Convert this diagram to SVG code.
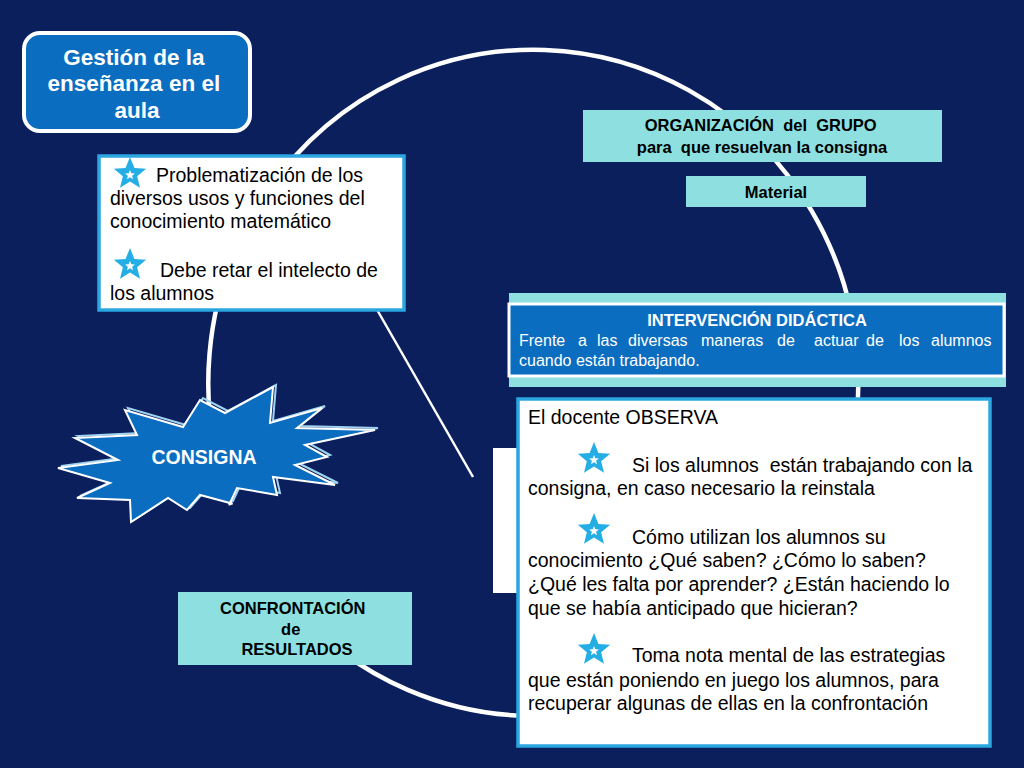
<svg xmlns="http://www.w3.org/2000/svg" width="1024" height="768" viewBox="0 0 1024 768">
<style>
  .t{font-family:"Liberation Sans",Arial,sans-serif;}
  .b{font-weight:bold;}
  .cyan{fill:#8de0df;}
  .wbox{fill:#ffffff;stroke:#2aa7e0;stroke-width:3.5;}
  .bbox{fill:#0b6dc0;stroke:#ffffff;stroke-width:3;}
  .conn{fill:none;stroke:#ffffff;stroke-width:4.5;}
</style>
<defs>
  <g id="star">
    <polygon points="0,-17 4.41,-6.07 16.17,-5.25 7.13,2.32 9.99,13.75 0,7.5 -9.99,13.75 -7.13,2.32 -16.17,-5.25 -4.41,-6.07" fill="#25aee6"/>
    <polygon points="0,-17 4.41,-6.07 16.17,-5.25 7.13,2.32 9.99,13.75 0,7.5 -9.99,13.75 -7.13,2.32 -16.17,-5.25 -4.41,-6.07" fill="#ffffff" transform="translate(0,1) scale(0.3)"/>
  </g>
</defs>
<rect x="0" y="0" width="1024" height="768" fill="#0b1f5d"/>

<g id="connectors">
  <path d="M 287 600 A 325 333 0 1 0 231 505" class="conn"/>
  <line x1="360" y1="280" x2="473" y2="477" stroke="#ffffff" stroke-width="2.5"/>
</g>

<g id="gestion">
  <rect x="24" y="33" width="226" height="98" rx="16" fill="#0b6dc0" stroke="#ffffff" stroke-width="4"/>
  <text class="t b" font-size="22.5" fill="#ffffff" text-anchor="middle">
    <tspan x="137" y="65">Gestión de la</tspan>
    <tspan x="137" y="91">enseñanza en el</tspan>
    <tspan x="137" y="118">aula</tspan>
  </text>
</g>

<g id="problematizacion">
  <rect x="99" y="156" width="305" height="154" class="wbox"/>
  <use href="#star" x="130" y="174"/>
  <use href="#star" x="130" y="265"/>
  <text class="t" font-size="19.5" fill="#000000">
    <tspan x="156" y="182">Problematización de los</tspan>
    <tspan x="110" y="205">diversos usos y funciones del</tspan>
    <tspan x="110" y="228">conocimiento matemático</tspan>
    <tspan x="160" y="277">Debe retar el intelecto de</tspan>
    <tspan x="110" y="300">los alumnos</tspan>
  </text>
</g>

<g id="consigna">
  <polygon points="273,387 225,413 200,400 183,427 125,410 137,435 75,438 118,460 58,468 110,483 77,498 130,500 131,522 168,498 187,510 200,495 230,503 237,488 277,495 273,477 335,485 295,465 327,457 305,445 375,430 297,428 322,408 270,423" fill="none" stroke="#9fd3f0" stroke-width="2" transform="translate(3,-2)"/>
  <polygon points="273,387 225,413 200,400 183,427 125,410 137,435 75,438 118,460 58,468 110,483 77,498 130,500 131,522 168,498 187,510 200,495 230,503 237,488 277,495 273,477 335,485 295,465 327,457 305,445 375,430 297,428 322,408 270,423" fill="#0b6dc0" stroke="#ffffff" stroke-width="2"/>
  <text class="t b" font-size="19.5" fill="#ffffff" text-anchor="middle" x="204" y="464">CONSIGNA</text>
</g>

<g id="organizacion">
  <rect x="583" y="110" width="359" height="52" class="cyan"/>
  <text class="t b" font-size="16.5" fill="#000000" text-anchor="middle">
    <tspan x="763" y="131" xml:space="preserve">ORGANIZACIÓN  del  GRUPO</tspan>
    <tspan x="762" y="153" xml:space="preserve">para  que resuelvan la consigna</tspan>
  </text>
</g>

<g id="material">
  <rect x="686" y="176" width="180" height="31" class="cyan"/>
  <text class="t b" font-size="16.5" fill="#000000" text-anchor="middle" x="776" y="198">Material</text>
</g>

<g id="intervencion">
  <rect x="509" y="293" width="497" height="94" class="cyan"/>
  <rect x="509" y="304" width="495" height="72" class="bbox"/>
  <text class="t b" font-size="16.5" fill="#ffffff" text-anchor="middle" x="757" y="326">INTERVENCIÓN DIDÁCTICA</text>
  <text class="t" font-size="16" fill="#ffffff">
    <tspan x="519" y="346">Frente</tspan>
    <tspan x="578" y="346">a</tspan>
    <tspan x="597" y="346">las</tspan>
    <tspan x="628" y="346">diversas</tspan>
    <tspan x="701" y="346">maneras</tspan>
    <tspan x="777" y="346">de</tspan>
    <tspan x="814" y="346">actuar</tspan>
    <tspan x="866" y="346">de</tspan>
    <tspan x="899" y="346">los</tspan>
    <tspan x="931" y="346">alumnos</tspan>
    <tspan x="519" y="366">cuando están trabajando.</tspan>
  </text>
</g>

<g id="hidden-box">
  <rect x="493" y="448" width="40" height="145" fill="#ffffff"/>
</g>

<g id="observa">
  <rect x="518" y="399" width="472" height="347" class="wbox"/>
  <use href="#star" x="594" y="459"/>
  <use href="#star" x="594" y="530"/>
  <use href="#star" x="594" y="650"/>
  <text class="t" font-size="19.5" fill="#000000">
    <tspan x="528" y="424">El docente OBSERVA</tspan>
    <tspan x="632" y="472" xml:space="preserve">Si los alumnos  están trabajando con la</tspan>
    <tspan x="528" y="495">consigna, en caso necesario la reinstala</tspan>
    <tspan x="632" y="544">Cómo utilizan los alumnos su</tspan>
    <tspan x="528" y="567">conocimiento ¿Qué saben? ¿Cómo lo saben?</tspan>
    <tspan x="528" y="591">¿Qué les falta por aprender? ¿Están haciendo lo</tspan>
    <tspan x="528" y="615">que se había anticipado que hicieran?</tspan>
    <tspan x="632" y="662">Toma nota mental de las estrategias</tspan>
    <tspan x="528" y="687">que están poniendo en juego los alumnos, para</tspan>
    <tspan x="528" y="710">recuperar algunas de ellas en la confrontación</tspan>
  </text>
</g>

<g id="confrontacion">
  <rect x="178" y="592" width="234" height="73" class="cyan"/>
  <text class="t b" font-size="16.5" fill="#000000" text-anchor="middle">
    <tspan x="295" y="614">CONFRONTACIÓN</tspan>
    <tspan x="293" y="635">de</tspan>
    <tspan x="297" y="655">RESULTADOS</tspan>
  </text>
</g>
</svg>
